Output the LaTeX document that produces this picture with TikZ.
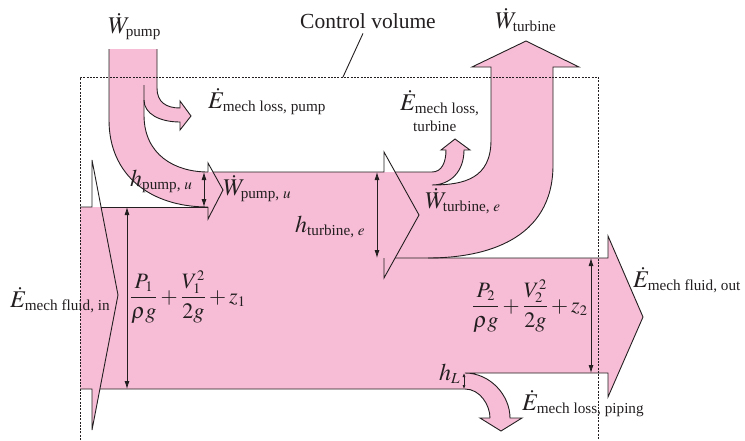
\documentclass[tikz,border=0pt]{standalone}
\usepackage{amsmath}
\usepackage{mathptmx}
\usepackage{fontspec}
\setmainfont{Liberation Serif}
\usetikzlibrary{arrows.meta}
\definecolor{flow}{HTML}{F7BDD6}
\definecolor{ink}{HTML}{231F20}
\DeclareMathSizes{24}{24}{15.2}{11}
\DeclareMathSizes{22}{22}{14.5}{10}

\begin{document}
\begin{tikzpicture}[x=1pt,y=-1pt,line join=miter,
  edge/.style={draw=ink,line width=0.9pt},
  dim/.style={draw=ink,line width=0.8pt,{Latex[length=8pt,width=5pt]}-{Latex[length=8pt,width=5pt]}},
  lbl/.style={inner sep=0pt,anchor=base west,text=ink,font=\fontsize{24}{29}\selectfont},
  head/.style={lbl,anchor=west,font=\fontsize{22}{26}\selectfont}]
\useasboundingbox (0,0) rectangle (745,440);

% pink energy bands
\fill[flow] (80,207) -- (208,207) -- (208,172) -- (432,172) .. controls (442,172) and (446,162) .. (446,150)
  -- (441,150) -- (455,139) -- (470,150) -- (464,150) .. controls (464,172) and (450,185) .. (432,185)
  .. controls (465,185) and (491,178) .. (491,140) -- (491,67) -- (472,67) -- (526,41) -- (579,67) -- (553,67)
  -- (553,165) .. controls (553,240) and (485,258) .. (428,258) -- (608,258) -- (608,236) -- (643,317)
  -- (608,397) -- (608,373) -- (465,373) .. controls (490,373) and (510,395) .. (510,418) -- (522,418)
  -- (501,431) -- (480,418) -- (490,418) .. controls (490,405) and (480,389) .. (465,389) -- (80,389) -- cycle;
\fill[flow] (109,49) -- (157,49) -- (157,88) .. controls (157,102) and (166,108) .. (180,108) -- (180,101)
  -- (191,116) -- (180,130) -- (180,122) .. controls (160,122) and (144,114) .. (144,100) -- (144,115)
  .. controls (144,155) and (175,172) .. (208,172) -- (208,207) .. controls (150,207) and (109,175) .. (109,120) -- cycle;
\fill[flow] (92,389) -- (100,389) -- (92,430) -- cycle;

% outlines
\draw[edge] (80,207) -- (92,207) -- (92,160) -- (118,295) -- (92,430) -- (92,389) -- (80,389);
\draw[edge] (101,207) -- (208,207);
\draw[edge] (100,389) -- (465,389) .. controls (480,389) and (490,405) .. (490,418);
\draw[edge] (109,49) -- (109,120) .. controls (109,175) and (150,207) .. (208,207);
\draw[edge] (157,49) -- (157,88) .. controls (157,102) and (166,108) .. (180,108) -- (180,101) -- (191,116)
  -- (180,130) -- (180,122) .. controls (160,122) and (144,114) .. (144,100) -- (144,85);
\draw[edge] (144,100) -- (144,115) .. controls (144,155) and (175,172) .. (208,172);
\draw[edge] (208,172) -- (208,163) -- (223,190) -- (208,219) -- (208,207);
\draw[edge] (213,172) -- (384,172) -- (384,152) -- (419,215) -- (384,278) -- (384,258);
\draw[edge] (395,172) -- (432,172) .. controls (442,172) and (446,162) .. (446,150) -- (441,150) -- (455,139)
  -- (470,150) -- (464,150) .. controls (464,172) and (450,185) .. (432,185)
  .. controls (465,185) and (491,178) .. (491,140) -- (491,67) -- (472,67) -- (526,41) -- (579,67) -- (553,67)
  -- (553,165) .. controls (553,240) and (485,258) .. (428,258);
\draw[edge] (395,258) -- (608,258) -- (608,236) -- (643,317) -- (608,397) -- (608,373) -- (465,373)
  .. controls (490,373) and (510,395) .. (510,418) -- (522,418) -- (501,431) -- (480,418) -- (490,418);

% heads
\foreach \x/\a/\b in {127/207/389,204/172/207,377/172/258,591/258/373}
  \draw[dim] (\x,\a) -- (\x,\b);
\draw[draw=ink,line width=0.7pt,{Latex[length=4pt,width=3pt]}-{Latex[length=4pt,width=3pt]}] (464,373) -- (464,389);

% control volume
\draw[ink,line width=0.9pt,dash pattern=on 2pt off 1.3pt] (80,440) -- (80,77) -- (598,77) -- (598,440);
\coordinate (cvtop) at (343,77);

\node[lbl,font=\fontsize{21.5}{26}\selectfont] (cv) at (300,28) {Control volume};
\draw[edge] ([xshift=-5pt,yshift=-5pt]cv.south) -- (cvtop);
\node[lbl] (wpump) at (108,33) {$\dot W_{\text{pump}}$};
\node[lbl] (wturb) at (495,28) {$\dot W_{\text{turbine}}$};
\node[lbl] (losspump) at (208,108) {$\dot E_{\text{mech loss, pump}}$};
\node[lbl] (lossturb) at (400,110) {$\dot E_{\text{mech loss,}}$};
\node[lbl] (lossturb2) at (413,131) {$\scriptstyle\text{turbine}$};
\node[lbl] (hpump) at (130,186) {$h_{\text{pump, }u}$};
\node[lbl] (wpumpu) at (223,195) {$\dot W_{\text{pump, }u}$};
\node[lbl] (hturb) at (295,232) {$h_{\text{turbine, }e}$};
\node[lbl] (wturbe) at (425,208) {$\dot W_{\text{turbine, }e}$};
\node[lbl] (ein) at (10,307) {$\dot E_{\text{mech fluid, in}}$};
\node[head] (head1) at (130,297) {$\dfrac{P_1}{\rho g}+\dfrac{V_1^2}{2g}+z_1$};
\node[head] (head2) at (472,306) {$\dfrac{P_2}{\rho g}+\dfrac{V_2^2}{2g}+z_2$};
\node[lbl] (eout) at (633,287) {$\dot E_{\text{mech fluid, out}}$};
\node[lbl] (hl) at (439,380) {$h_L$};
\node[lbl] (epipe) at (522,410) {$\dot E_{\text{mech loss, piping}}$};
\end{tikzpicture}
\end{document}
